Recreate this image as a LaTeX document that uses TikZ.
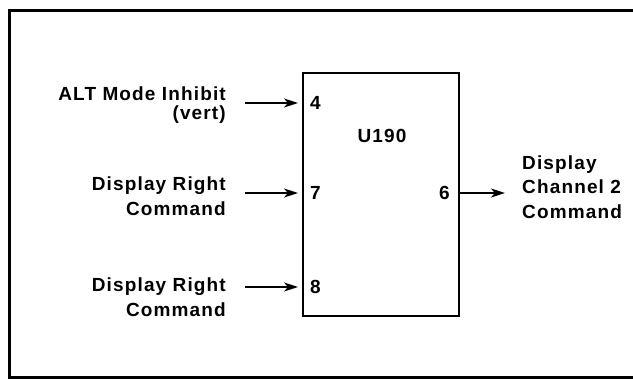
\documentclass[tikz,border=0pt]{standalone}
\usepackage{fontspec}
\setmainfont{Liberation Sans}[LetterSpace=6]
\usetikzlibrary{arrows.meta,positioning}
\tikzset{
  chip/.style={draw, line width=2pt, minimum width=156pt, minimum height=243pt, inner sep=0pt},
  lbl/.style={font=\fontsize{19}{24.5}\selectfont\bfseries, inner sep=0pt},
  pin/.style={font=\fontsize{19}{20}\selectfont\bfseries, inner sep=0pt},
  sig/.style={line width=1.9pt, -{Stealth[length=14pt,width=9pt,inset=4pt]}, shorten >=5pt}
}
\begin{document}
\begin{tikzpicture}[x=1pt,y=-1pt]
\useasboundingbox (0,0) rectangle (633,380);
\draw[line width=3pt] (633,10) -- (9,10) -- (9,377) -- (633,377);
\node[chip] (u190) at (381,194.5) {};
\node[pin] (name) at (382,136) {U190};
\coordinate (p4) at (303,103);
\coordinate (p7) at (303,193);
\coordinate (p8) at (303,287);
\coordinate (p6) at (459,193);
\node[pin, right=7pt of p4] (n4) {4};
\node[pin, right=7pt of p7] (n7) {7};
\node[pin, right=7pt of p8] (n8) {8};
\node[pin, left=9pt of p6] (n6) {6};
% inputs
\node[lbl, align=right, anchor=east] (in4) at (226,105) {ALT Mode Inhibit\\[-6pt](vert)};
\node[lbl, align=right, anchor=east] (in7) at (226,196) {Display Right\\Command};
\node[lbl, align=right, anchor=east] (in8) at (226,297) {Display Right\\Command};
\draw[sig] ([xshift=19pt]in4.east |- p4) -- (p4);
\draw[sig] ([xshift=19pt]in7.east |- p7) -- (p7);
\draw[sig] ([xshift=19pt]in8.east |- p8) -- (p8);
% output
\node[lbl, align=left, anchor=west] (out6) at (522,187) {Display\\Channel 2\\Command};
\coordinate (o6) at (505,193);
\draw[sig, shorten >=0pt] (p6) -- (o6);
\end{tikzpicture}
\end{document}
